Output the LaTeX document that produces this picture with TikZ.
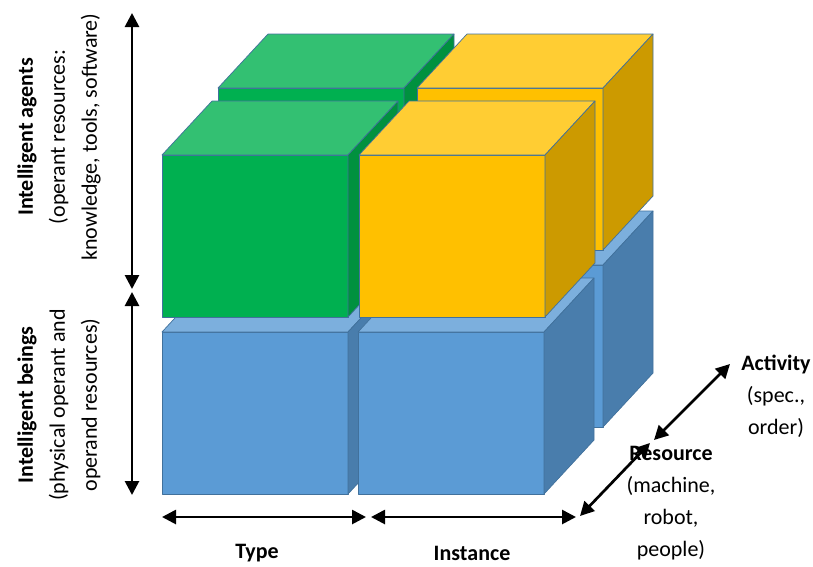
\documentclass[tikz,border=0pt]{standalone}
\usepackage{fontspec}
\setmainfont{Carlito}
\usetikzlibrary{arrows.meta}
\definecolor{grnfront}{HTML}{00B050}
\definecolor{grntop}{HTML}{33C072}
\definecolor{grnside}{HTML}{00913F}
\definecolor{ylwfront}{HTML}{FFC000}
\definecolor{ylwtop}{HTML}{FFCD33}
\definecolor{ylwside}{HTML}{CC9A00}
\definecolor{blufront}{HTML}{5B9BD5}
\definecolor{blutop}{HTML}{7CAFDD}
\definecolor{bluside}{HTML}{497DAC}
\definecolor{edgeblue}{HTML}{41719C}
\tikzstyle{cubeedge} = [draw=edgeblue, line width=0.7pt, line join=round]
\tikzstyle{dimarrow} = [line width=2.7pt, {Triangle[length=14pt,width=14pt]}-{Triangle[length=14pt,width=14pt]}]
\tikzstyle{axistext} = [align=center, inner sep=0pt]
% front face corner (x,y), then front, top and side colour
\newcommand{\drawcube}[5]{%
  \filldraw[cubeedge, fill=#3] (#1,#2) rectangle ++(186,162);
  \filldraw[cubeedge, fill=#4] (#1,#2) -- ++(50,-54) -- ++(186,0) -- ++(-50,54) -- cycle;
  \filldraw[cubeedge, fill=#5] (#1+186,#2) -- ++(50,-54) -- ++(0,162) -- ++(-50,54) -- cycle;
}
\begin{document}
\begin{tikzpicture}[x=1pt, y=-1pt, font=\fontsize{22}{32}\selectfont]
\useasboundingbox (0,0) rectangle (813,566);

% back row
\drawcube{218}{265}{blufront}{blutop}{bluside}
\drawcube{417}{265}{blufront}{blutop}{bluside}
\drawcube{218}{88}{grnfront}{grntop}{grnside}
\drawcube{417}{88}{ylwfront}{ylwtop}{ylwside}

% front row
\drawcube{162}{332}{blufront}{blutop}{bluside}
\drawcube{358}{332}{blufront}{blutop}{bluside}
\drawcube{162}{155}{grnfront}{grntop}{grnside}
\drawcube{359}{155}{ylwfront}{ylwtop}{ylwside}

% arrow ends
\coordinate (agentsTop) at (132,13);
\coordinate (agentsBot) at (132,289);
\coordinate (beingsTop) at (132,292);
\coordinate (beingsBot) at (132,495);
\coordinate (typeL) at (162,517);
\coordinate (typeR) at (366,517);
\coordinate (instL) at (371,517);
\coordinate (instR) at (576,517);
\coordinate (resLow) at (580,516);
\coordinate (resHigh) at (650,443);
\coordinate (actLow) at (654,440);
\coordinate (actHigh) at (730,364);

\draw [dimarrow] (agentsTop) -- (agentsBot);
\draw [dimarrow] (beingsTop) -- (beingsBot);
\draw [dimarrow] (typeL) -- (typeR);
\draw [dimarrow] (instL) -- (instR);
\draw [dimarrow] (resLow) -- (resHigh);
\draw [dimarrow] (actLow) -- (actHigh);

% labels
\node (agents) [axistext, rotate=90] at (59,137) {\textbf{Intelligent agents}\\(operant resources:\\knowledge, tools, software)};
\node (beings) [axistext, rotate=90] at (59,405) {\textbf{Intelligent beings}\\(physical operant and\\operand resources)};
\node (type) [axistext] at (257,553) {\textbf{Type}};
\node (instance) [axistext] at (472,553) {\textbf{Instance}};
\node (resource) [axistext] at (671,503) {\textbf{Resource}\\(machine,\\robot,\\people)};
\node (activity) [axistext] at (776,396) {\textbf{Activity}\\(spec.,\\order)};
\end{tikzpicture}
\end{document}
